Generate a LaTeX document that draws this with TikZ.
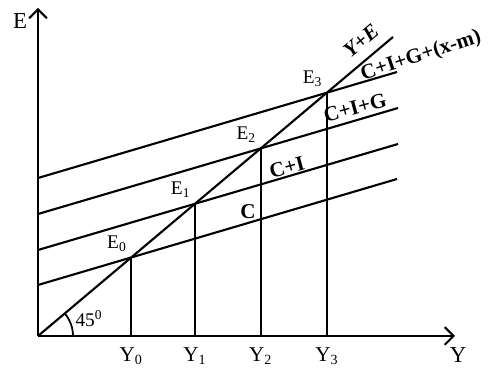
\documentclass[tikz,border=0pt]{standalone}
\usepackage{fontspec}
\setmainfont{Liberation Serif}
\usetikzlibrary{arrows.meta}

\begin{document}
\begin{tikzpicture}[x=0.02cm, y=-0.02cm, line width=1.2pt]
        \tikzset{
            axis/.style={-{Straight Barb[length=5pt,width=10pt,line width=1.2pt]}},
            curvelabel/.style={font=\fontsize{12}{12}\selectfont\bfseries, inner sep=0pt},
            eqlabel/.style={font=\fontsize{11}{11}\selectfont, inner sep=1pt},
            ylabel/.style={font=\fontsize{12}{12}\selectfont, inner sep=0pt}
        }
        \useasboundingbox (0,0) rectangle (488,371);

        % Coordinates
        \coordinate (O) at (38,336);
        \coordinate (Etop) at (38,8);
        \coordinate (Yend) at (455,336);
        \coordinate (D) at (393,37);
        \coordinate (A) at (38,285);
        \coordinate (AA) at (397,179);
        \coordinate (B) at (38,250);
        \coordinate (BB) at (398,144);
        \coordinate (C) at (38,214);
        \coordinate (CC) at (398,108);
        \coordinate (G) at (38,178);
        \coordinate (GG) at (397,72);
        \coordinate (E0) at (intersection of O--D and A--AA);
        \coordinate (E1) at (intersection of O--D and B--BB);
        \coordinate (E2) at (intersection of O--D and C--CC);
        \coordinate (E3) at (intersection of O--D and G--GG);

        % Drawing
        \draw[axis] (O) -- (Etop);
        \draw[axis] (O) -- (Yend);
        \draw (O) -- (D);
        \draw (A) -- (AA);
        \draw (B) -- (BB);
        \draw (C) -- (CC);
        \draw (G) -- (GG);
        \draw (E0) -- (E0 |- O);
        \draw (E1) -- (E1 |- O);
        \draw (E2) -- (E2 |- O);
        \draw (E3) -- (E3 |- O);
        \draw[line width=1pt] (73,336) arc[start angle=0, end angle=-40, radius=35];

        \node[font=\fontsize{13}{13}\selectfont] (lE) at (20,21) {E};
        \node[font=\fontsize{13}{13}\selectfont] (lY) at (458,355) {Y};
        \node[font=\fontsize{11}{11}\selectfont, inner sep=0pt] (l45) at (89,319) {45\textsuperscript{0}};
        \node[eqlabel, anchor=south east] (lE0) at ([xshift=-1pt,yshift=2pt]E0) {E\textsubscript{0}};
        \node[eqlabel, anchor=south east] (lE1) at ([xshift=-1pt,yshift=2pt]E1) {E\textsubscript{1}};
        \node[eqlabel, anchor=south east] (lE2) at ([xshift=-1pt,yshift=2pt]E2) {E\textsubscript{2}};
        \node[eqlabel, anchor=south east] (lE3) at ([xshift=-1pt,yshift=2pt]E3) {E\textsubscript{3}};
        \node[ylabel, anchor=north] (lY0) at ([yshift=-6pt]E0 |- O) {Y\textsubscript{0}};
        \node[ylabel, anchor=north] (lY1) at ([yshift=-6pt]E1 |- O) {Y\textsubscript{1}};
        \node[ylabel, anchor=north] (lY2) at ([yshift=-6pt]E2 |- O) {Y\textsubscript{2}};
        \node[ylabel, anchor=north] (lY3) at ([yshift=-6pt]E3 |- O) {Y\textsubscript{3}};
        \node[curvelabel] (lC) at (248,212) {C};
        \node[curvelabel, rotate=15] (lCI) at (287,167) {C+I};
        \node[curvelabel, rotate=15] (lCIG) at (355,108) {C+I+G};
        \node[curvelabel, rotate=18] (lCIGX) at (421,56) {C+I+G+(x-m)};
        \node[curvelabel, rotate=40] (lYE) at (361,41) {\itshape Y+E};
    \end{tikzpicture}
\end{document}
